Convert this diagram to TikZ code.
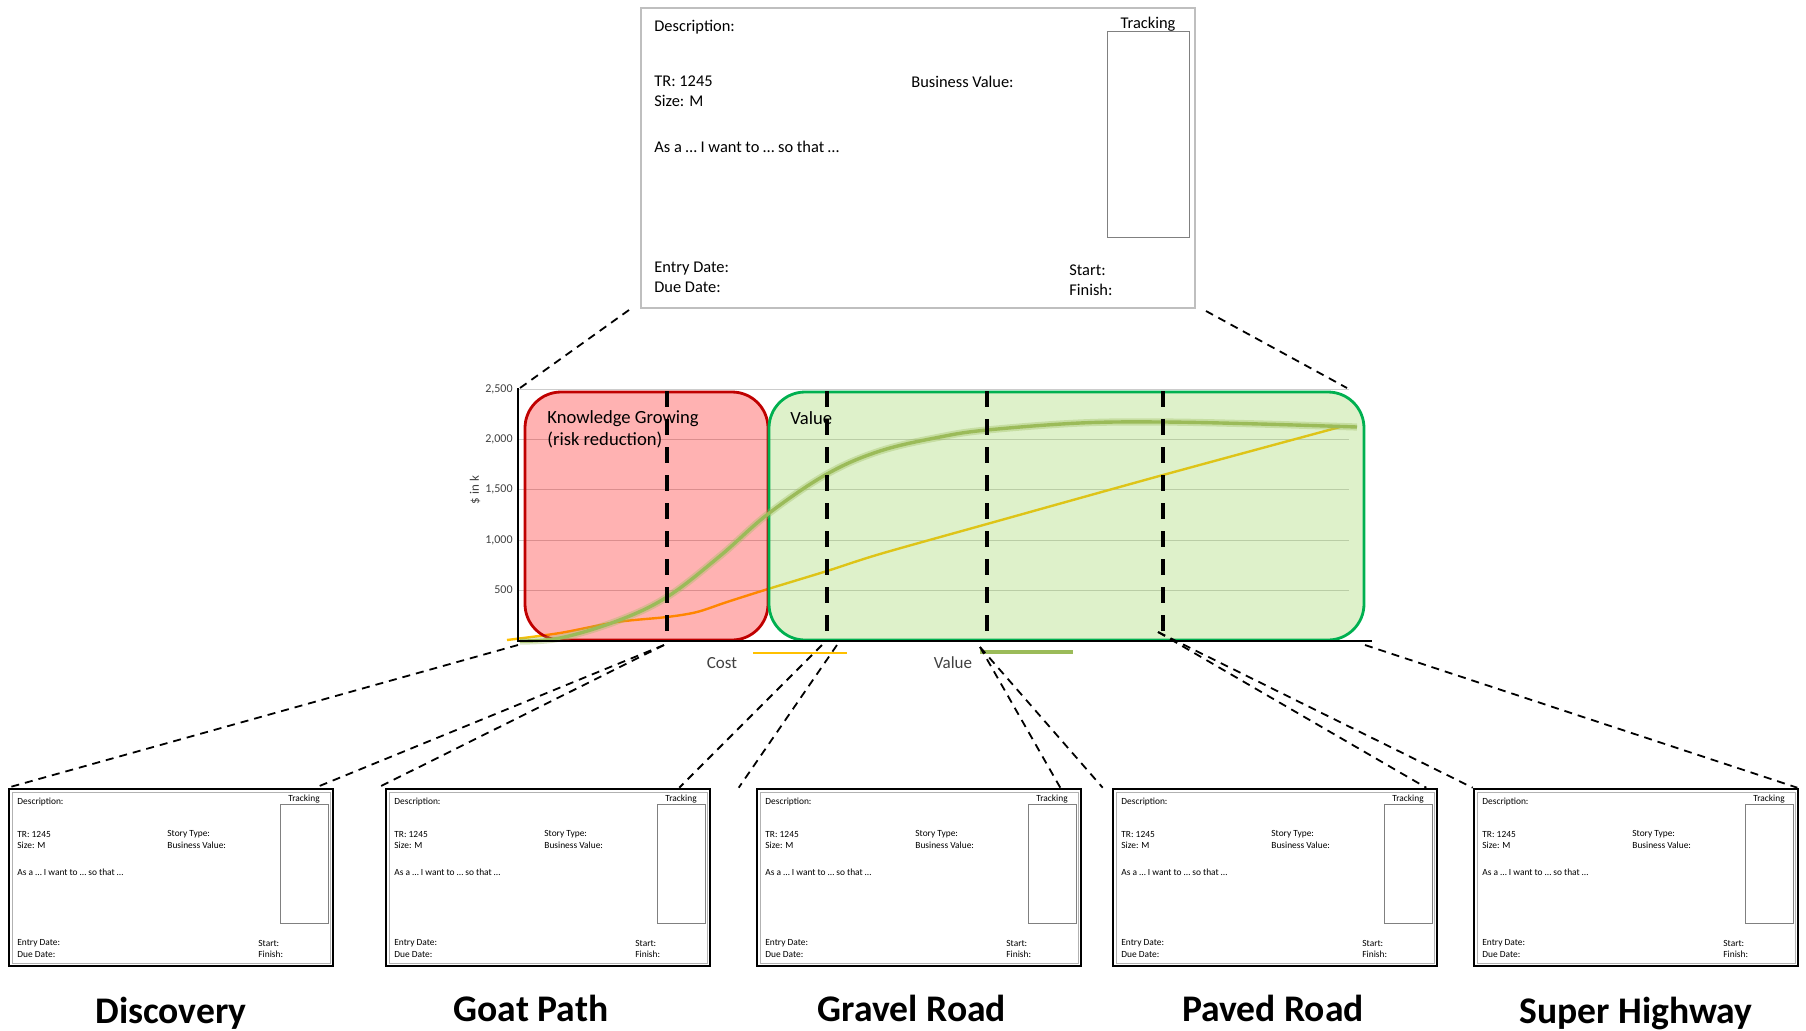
\documentclass[tikz,border=0pt]{standalone}
\usepackage{fontspec}
\setmainfont{Carlito}
\usetikzlibrary{positioning,calc}

\definecolor{riskred}{RGB}{192,0,0}
\definecolor{valuegreen}{RGB}{0,176,80}
\definecolor{valuefill}{RGB}{146,208,80}
\definecolor{curvegreen}{RGB}{155,187,89}
\definecolor{costgold}{RGB}{255,192,0}
\definecolor{ticktext}{RGB}{64,64,64}

\begin{document}
\begin{tikzpicture}[x=0.5pt, y=-0.5pt,
      toptxt/.style = {inner sep=0pt, anchor=west, font=\fontsize{8.2}{9.8}\selectfont},
      cardtxt/.style = {inner sep=0pt, anchor=west, font=\fontsize{4.7}{5.8}\selectfont},
      topcard/.style = {draw=black!25, line width=1pt, minimum width=277pt,
         minimum height=150pt, inner sep=0pt},
      card/.style = {draw, line width=1.3pt, minimum width=162pt,
         minimum height=88.5pt, inner sep=0pt},
      trackbox/.style = {draw=black!50, line width=0.5pt, inner sep=0pt},
      roadtitle/.style = {inner sep=0pt, font=\fontsize{18.8}{22}\selectfont\bfseries},
      ticklabel/.style = {anchor=east, inner sep=0pt, text=ticktext,
         font=\fontsize{6}{7}\selectfont},
      legendtxt/.style = {inner sep=0pt, text=ticktext, font=\fontsize{8.5}{10}\selectfont},
      gridline/.style = {black!20, line width=0.5pt},
      cutline/.style = {line width=2pt, dash pattern=on 8pt off 6pt},
      zoomline/.style = {line width=0.9pt, dash pattern=on 4pt off 3pt},
   ]
   \useasboundingbox (0,0) rectangle (1806,1030);

   % story card on top
   \node[topcard] (story) at (918,158) {};
   \node[toptxt] (desc) at (654,27) {Description:};
   \node[toptxt, anchor=center] (trl) at (1148,24) {Tracking};
   \node[trackbox, minimum width=41pt, minimum height=103pt] (trk) at (1148,134) {};
   \node[toptxt, align=left] (tr) at (654,91.5) {TR: 1245\\Size: M};
   \node[toptxt] (bval) at (911,82) {Business Value:};
   \node[toptxt] (asa) at (654,147) {As a … I want to … so that …};
   \node[toptxt, align=left] (dates) at (654,277) {Entry Date:\\Due Date:};
   \node[toptxt, align=left] (sf) at (1069,280.5) {Start:\\Finish:};

   % grid and ticks
   \foreach \y/\lab [count=\k] in {590/500, 540/{1,000}, 489/{1,500}, 439/{2,000}, 389/{2,500}}{
      \draw[gridline] (518,\y) -- (1349,\y);
      \node[ticklabel] (tick\k) at (513,\y) {\lab};
   }
   \node[rotate=90, inner sep=0pt, text=ticktext, font=\fontsize{6.5}{7}\selectfont]
      (ylab) at (475,490) {\$ in k};

   % cost line
   \draw[costgold, line width=1.2pt] plot[smooth, tension=0.5] coordinates {(507,640)
      (560,633) (617,622) (667,617) (697,612) (727,602) (768,589) (827,571)
      (880,554) (987,524) (1163,475) (1340,427)};

   % phases
   \draw[riskred, line width=1.4pt, fill=red, fill opacity=0.3, rounded corners=18pt]
      (525,392) rectangle (768,640);
   \draw[valuegreen, line width=1.4pt, fill=valuefill, fill opacity=0.3, rounded corners=18pt]
      (769,392) rectangle (1364,640);

   % value curve
   \draw[curvegreen, line width=3.6pt, opacity=0.35] plot[smooth, tension=0.6] coordinates {
      (520,641) (560,638) (617,621) (667,597) (720,556) (768,514) (827,474) (880,451)
      (940,437) (987,430) (1080,423) (1163,422) (1260,424) (1357,427)};
   \draw[curvegreen, line width=1.7pt] plot[smooth, tension=0.6] coordinates {
      (520,641) (560,638) (617,621) (667,597) (720,556) (768,514) (827,474) (880,451)
      (940,437) (987,430) (1080,423) (1163,422) (1260,424) (1357,427)};

   \foreach \x in {667,827,987,1163}
      \draw[cutline] (\x,391) -- (\x,631);

   % axes
   \draw[line width=1.4pt] (518,388) -- (518,641) -- (1372,641);

   \node[inner sep=0pt, anchor=west, align=left, font=\fontsize{9.3}{11}\selectfont]
      (kg) at (547,429) {Knowledge Growing\\(risk reduction)};
   \node[inner sep=0pt, anchor=west, font=\fontsize{9.3}{11}\selectfont]
      (val) at (790,418) {Value};

   % legend
   \draw[costgold, line width=1.4pt] (753,653) -- (847,653);
   \node[legendtxt] (cost) at (722,663) {Cost};
   \draw[curvegreen, line width=1.6pt] (980,652) -- (1073,652);
   \node[legendtxt] (valleg) at (953,663) {Value};

   % story cards per phase
   \foreach \cx/\tx/\ty/\name [count=\i] in {9/171/1023/Discovery, 386/531/1021/Goat Path,
         757/912/1021/Gravel Road, 1113/1273/1021/Paved Road, 1474/1636/1023/Super Highway}{
      \begin{scope}[shift={(\cx,789)}]
         \node[card] (card\i) at (162,88.5) {};
         \draw[black!30, line width=0.4pt] (3,3) rectangle (321,174);
         \node[cardtxt] (desc\i) at (8,13) {Description:};
         \node[cardtxt, anchor=center] (trl\i) at (295,10.5) {Tracking};
         \node[trackbox, minimum width=24pt, minimum height=59.5pt] (trk\i) at (295,74.5) {};
         \node[cardtxt, align=left] (tr\i) at (8,51) {TR: 1245\\Size: M};
         \node[cardtxt, align=left] (type\i) at (158,50.5) {Story Type:\\Business Value:};
         \node[cardtxt] (asa\i) at (8,83.5) {As a … I want to … so that …};
         \node[cardtxt, align=left] (dates\i) at (8,159.5) {Entry Date:\\Due Date:};
         \node[cardtxt, align=left] (sf\i) at (249,160) {Start:\\Finish:};
      \end{scope}
      \node[roadtitle, anchor=base] (title\i) at (\tx,\ty) {\name};
   }

   % zoom lines
   \coordinate (ytop) at (520,388);
   \coordinate (gtop) at (1347,388);
   \draw[zoomline] ($(story.south west)+(-11,1)$) -- (ytop);
   \draw[zoomline] ($(story.south east)+(10,2)$) -- (gtop);

   \coordinate (o0) at (518,645);
   \coordinate (o1) at (664,645);
   \coordinate (o2a) at (822,645);
   \coordinate (o2b) at (837,645);
   \coordinate (o3) at (980,647);
   \coordinate (o4) at (1158,632);
   \coordinate (o5) at (1365,645);

   \draw[zoomline] (o0) -- (card1.north west);
   \draw[zoomline] (o1) -- ($(card1.north east)+(-19,0)$);
   \draw[zoomline] (o1) -- ($(card2.north west)+(-7,0)$);
   \draw[zoomline] (o2a) -- ($(card2.north east)+(-32,0)$);
   \draw[zoomline] (o2b) -- ($(card3.north west)+(-17,0)$);
   \draw[zoomline] (o3) -- ($(card3.north east)+(-22,0)$);
   \draw[zoomline] (o3) -- ($(card4.north west)+(-9,0)$);
   \draw[zoomline] (o4) -- ($(card4.north east)+(-12,0)$);
   \draw[zoomline] (o4) -- (card5.north west);
   \draw[zoomline] (o5) -- ($(card5.north east)+(-2,0)$);
\end{tikzpicture}
\end{document}
